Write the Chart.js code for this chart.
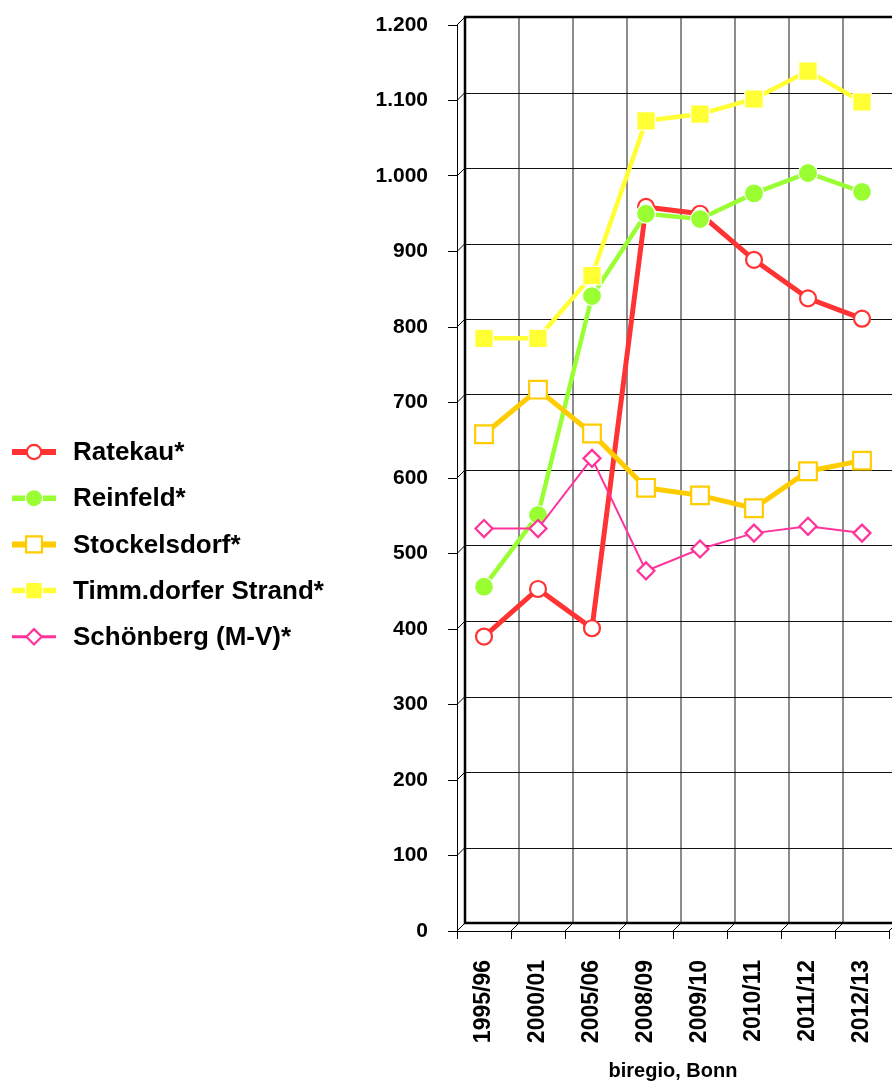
<!DOCTYPE html>
<html>
<head>
<meta charset="utf-8">
<script src="https://cdn.jsdelivr.net/npm/chart.js@4/dist/chart.umd.min.js"></script>
<style>
  html, body { margin: 0; padding: 0; background: #fff; }
  #wrap { width: 892px; height: 1086px; }
</style>
</head>
<body>
<div id="wrap"><canvas id="chart" width="892" height="1086"></canvas></div>
<script>
// values
const years = ['1995/96', '2000/01', '2005/06', '2008/09', '2009/10', '2010/11', '2011/12', '2012/13'];
const ratekau = [390, 453, 401, 959, 950, 889, 838, 811];
const reinfeld = [456, 551, 841, 950, 943, 977, 1004, 979];
const stockelsdorf = [658, 717, 659, 587, 577, 560, 609, 623];
const timmendorf = [785, 785, 868, 1073, 1082, 1102, 1139, 1098];
const schoenberg = [533, 533, 626, 477, 506, 527, 536, 527];
const seriesNames = ['Ratekau*', 'Reinfeld*', 'Stockelsdorf*', 'Timm.dorfer Strand*', 'Schönberg (M-V)*'];

const DX = 8, DY = -8;   // depth offset of the back wall

function fmt(v) {
    return v >= 1000 ? Math.floor(v / 1000) + '.' + String(v % 1000).padStart(3, '0') : String(v);
}

function drawMarker(ctx, style, r, x, y) {
    if (style === 'circle') {
        ctx.arc(x, y, r, 0, Math.PI * 2);
    } else if (style === 'rect') {
        const s = r * Math.SQRT1_2;
        ctx.rect(x - s, y - s, 2 * s, 2 * s);
    } else {
        ctx.moveTo(x, y - r);
        ctx.lineTo(x + r, y);
        ctx.lineTo(x, y + r);
        ctx.lineTo(x - r, y);
        ctx.closePath();
    }
}

// back wall, grid and depth lines
const wallPlugin = {
    id: 'wall',
    beforeDatasetsDraw(chart) {
        const ctx = chart.ctx;
        const y = chart.scales.y, x = chart.scales.x;
        const left = x.left, bottom = y.bottom, top = y.top;
        const n = years.length;
        const step = x.width / n;
        const far = chart.width + 20;
        ctx.save();
        // vertical grid
        ctx.strokeStyle = '#666';
        ctx.lineWidth = 1.5;
        for (let i = 1; i <= n; i++) {
            const px = Math.round(left + i * step + DX);
            ctx.beginPath();
            ctx.moveTo(px, top + DY);
            ctx.lineTo(px, bottom + DY);
            ctx.stroke();
        }
        // horizontal grid
        ctx.strokeStyle = '#111';
        ctx.lineWidth = 1;
        y.ticks.forEach(function (t) {
            const py = Math.round(y.getPixelForValue(t.value) + DY) + 0.5;
            ctx.beginPath();
            ctx.moveTo(left + DX, py);
            ctx.lineTo(far, py);
            ctx.stroke();
        });
        // wall frame
        ctx.strokeStyle = '#000';
        ctx.lineWidth = 2.5;
        ctx.beginPath();
        ctx.moveTo(far, top + DY);
        ctx.lineTo(left + DX, top + DY);
        ctx.lineTo(left + DX, bottom + DY);
        ctx.lineTo(far, bottom + DY);
        ctx.stroke();
        // depth lines
        ctx.lineWidth = 1;
        y.ticks.forEach(function (t) {
            const py = y.getPixelForValue(t.value);
            ctx.beginPath();
            ctx.moveTo(left, py);
            ctx.lineTo(left + DX, py + DY);
            ctx.stroke();
        });
        for (let i = 0; i <= n; i++) {
            const px = left + i * step;
            ctx.beginPath();
            ctx.moveTo(px, bottom);
            ctx.lineTo(px + DX, bottom + DY);
            ctx.stroke();
        }
        ctx.restore();
    }
};

// legend on the left
const legendPlugin = {
    id: 'sideLegend',
    afterDraw(chart) {
        const ctx = chart.ctx;
        ctx.save();
        chart.data.datasets.forEach(function (ds, i) {
            const cy = 452 + i * 46.2;
            ctx.strokeStyle = ds.borderColor;
            ctx.lineWidth = ds.borderWidth + 1;
            ctx.beginPath();
            ctx.moveTo(12, cy);
            ctx.lineTo(56, cy);
            ctx.stroke();
            ctx.fillStyle = ds.pointBackgroundColor;
            ctx.strokeStyle = ds.pointBorderColor;
            ctx.lineWidth = ds.pointBorderWidth;
            ctx.beginPath();
            drawMarker(ctx, ds.pointStyle, ds.pointRadius * 0.9, 34, cy);
            ctx.fill();
            ctx.stroke();
            ctx.fillStyle = '#000';
            ctx.font = 'bold 26px "Liberation Sans", Arial, sans-serif';
            ctx.textBaseline = 'middle';
            ctx.fillText(ds.label, 73, cy + 1);
        });
        ctx.restore();
    }
};

function series(label, data, color, width, style, radius, open) {
    return {
        label: label,
        data: data,
        borderColor: color,
        backgroundColor: color,
        borderWidth: width,
        tension: 0,
        pointStyle: style,
        pointRadius: radius,
        pointHoverRadius: radius,
        pointBackgroundColor: open ? '#fff' : color,
        pointBorderColor: open ? color : '#fff',
        pointBorderWidth: open ? 2.2 : 1.2
    };
}

const datasets = [
    series(seriesNames[0], ratekau, '#ff3333', 5, 'circle', 8, true),
    series(seriesNames[1], reinfeld, '#99ff33', 4.5, 'circle', 9.5, false),
    series(seriesNames[2], stockelsdorf, '#ffcc00', 5, 'rect', 12.5, true),
    series(seriesNames[3], timmendorf, '#ffff33', 4.5, 'rect', 13, false),
    series(seriesNames[4], schoenberg, '#ff3399', 2, 'rectRot', 8.5, true)
];
// later series drawn on top
datasets.forEach(function (ds, i) { ds.order = datasets.length - i; });

new Chart(document.getElementById('chart'), {
    type: 'line',
    data: { labels: years, datasets: datasets },
    options: {
        responsive: false,
        animation: false,
        layout: { autoPadding: false, padding: { top: 25, right: 3, left: 0, bottom: 0 } },
        plugins: { legend: { display: false }, tooltip: { enabled: false } },
        scales: {
            x: {
                type: 'category',
                offset: true,
                afterFit: function (s) { s.height = 155; s.paddingLeft = 0; s.paddingRight = 0; },
                grid: { offset: true, drawOnChartArea: false, drawTicks: true, tickLength: 8, color: '#000', lineWidth: 1 },
                border: { display: true, color: '#000', width: 1 },
                ticks: {
                    color: '#000',
                    minRotation: 90, maxRotation: 90,
                    padding: 21,
                    font: { family: '"Liberation Sans", Arial, sans-serif', weight: 'bold', size: 23 }
                },
                title: {
                    display: true,
                    text: 'biregio, Bonn',
                    color: '#000',
                    padding: { top: 0, bottom: 3 },
                    font: { family: '"Liberation Sans", Arial, sans-serif', weight: 'bold', size: 20 }
                }
            },
            y: {
                min: 0, max: 1200,
                afterFit: function (s) { s.width = 457; s.paddingTop = 0; s.paddingBottom = 0; },
                grid: { drawOnChartArea: false, drawTicks: true, tickLength: 9, color: '#000', lineWidth: 1 },
                border: { display: true, color: '#000', width: 1 },
                ticks: {
                    stepSize: 100,
                    color: '#000',
                    padding: 20,
                    callback: function (v) { return fmt(v); },
                    font: { family: '"Liberation Sans", Arial, sans-serif', weight: 'bold', size: 21 }
                }
            }
        }
    },
    plugins: [wallPlugin, legendPlugin]
});
</script>
</body>
</html>
